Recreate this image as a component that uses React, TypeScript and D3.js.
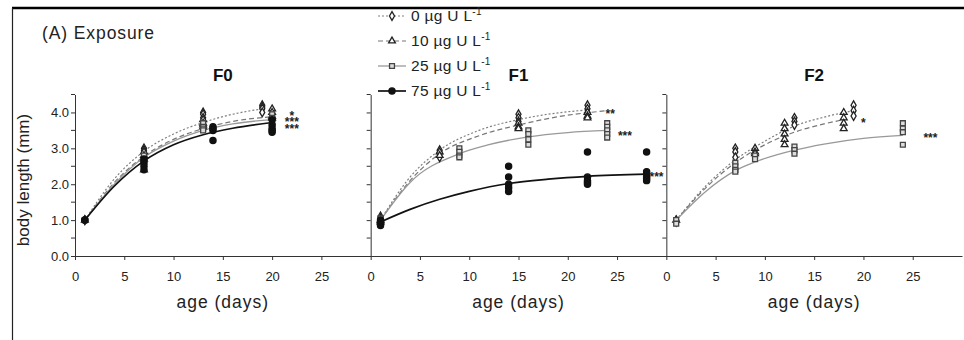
import * as d3 from "d3";
import { useEffect, useRef } from "react";

const panelNames = ["F0", "F1", "F2"];
const xTicks = [0, 5, 10, 15, 20, 25];
const yTicks = [0, 1, 2, 3, 4];
const yMinor = [0.5, 1.5, 2.5, 3.5, 4.5];
const treatments = ["0", "10", "25", "75"];

// measured body lengths: [day, values]
const f0Pts0 = [[1, [1.0, 1.0]], [7, [3.0, 2.95, 2.9, 2.85]], [13, [4.0, 3.95, 3.85, 3.75]], [19, [4.2, 4.15, 4.1, 4.0]]];
const f0Pts10 = [[1, [1.0]], [7, [2.9, 2.8, 2.7, 2.4]], [13, [3.8, 3.7, 3.65, 3.6]], [20, [4.1, 4.0, 3.9, 3.85]]];
const f0Pts25 = [[1, [1.0]], [7, [2.8, 2.7, 2.65, 2.6]], [13, [3.7, 3.6, 3.55, 3.5]], [20, [3.95, 3.85, 3.75, 3.7]]];
const f0Pts75 = [[1, [1.0, 1.0]], [7, [2.7, 2.6, 2.5, 2.4]], [14, [3.6, 3.55, 3.5, 3.22]], [20, [3.8, 3.65, 3.55, 3.5, 3.45]]];

const f1Pts0 = [[1, [1.1, 1.05, 1.0]], [7, [2.95, 2.85, 2.75]], [15, [3.95, 3.85, 3.75]], [22, [4.2, 4.1, 4.0, 3.95]]];
const f1Pts10 = [[1, [1.0, 0.95]], [7, [2.9, 2.8]], [15, [3.7, 3.6, 3.55]], [22, [4.0, 3.9, 3.85]]];
const f1Pts25 = [[1, [1.05, 0.95, 0.9]], [9, [3.0, 2.9, 2.8, 2.75]], [16, [3.5, 3.4, 3.25, 3.1]], [24, [3.7, 3.6, 3.5, 3.4, 3.3]]];
const f1Pts75 = [[1, [1.0, 0.95, 0.9, 0.85]], [14, [2.5, 2.2, 2.0, 1.9, 1.8]], [22, [2.9, 2.2, 2.1, 2.05, 2.0]], [28, [2.9, 2.35, 2.3, 2.2, 2.15, 2.1]]];

const f2Pts0 = [[1, [1.0, 0.95]], [7, [3.0, 2.9, 2.75]], [13, [3.85, 3.75, 3.65]], [19, [4.2, 4.05, 3.9]]];
const f2Pts10 = [[1, [1.0]], [9, [3.0, 2.9, 2.85]], [12, [3.7, 3.55, 3.4, 3.25, 3.1]], [18, [4.0, 3.85, 3.7, 3.55]]];
const f2Pts25 = [[1, [1.0, 0.9]], [7, [2.6, 2.5, 2.4, 2.35]], [9, [2.8, 2.7]], [13, [3.05, 2.95, 2.85]], [24, [3.7, 3.55, 3.45, 3.1]]];

// fitted growth curves: [day, value]
const f0Fit0 = [[1, 1.0], [4, 2.15], [7, 2.92], [10, 3.4], [13, 3.72], [16, 3.95], [19, 4.1]];
const f0Fit10 = [[1, 1.0], [4, 2.05], [7, 2.78], [10, 3.25], [13, 3.55], [16, 3.75], [20, 3.88]];
const f0Fit25 = [[1, 1.0], [4, 2.0], [7, 2.75], [10, 3.2], [13, 3.5], [16, 3.68], [20, 3.8]];
const f0Fit75 = [[1, 1.0], [4, 1.95], [7, 2.65], [10, 3.1], [13, 3.38], [16, 3.56], [20, 3.72]];

const f1Fit0 = [[1, 1.0], [4, 2.2], [7, 2.95], [11, 3.5], [15, 3.8], [18, 3.95], [22, 4.07]];
const f1Fit10 = [[1, 1.0], [4, 2.1], [7, 2.85], [11, 3.35], [15, 3.65], [19, 3.88], [24, 4.05]];
const f1Fit25 = [[1, 1.0], [4, 2.05], [9, 2.85], [12, 3.1], [16, 3.32], [20, 3.44], [24, 3.5]];
const f1Fit75 = [[1, 0.95], [4, 1.3], [7, 1.58], [10, 1.8], [14, 2.02], [18, 2.14], [22, 2.22], [28, 2.28]];

const f2Fit0 = [[1, 1.0], [4, 1.95], [7, 2.68], [10, 3.2], [13, 3.62], [16, 3.87], [19, 4.05]];
const f2Fit10 = [[1, 1.0], [4, 1.9], [7, 2.6], [10, 3.1], [13, 3.45], [16, 3.68], [18, 3.8]];
const f2Fit25 = [[1, 1.0], [4, 1.8], [7, 2.38], [9, 2.62], [13, 2.95], [16, 3.12], [20, 3.28], [24, 3.36]];

// significance marks: [day, value, label]
const f0Stars = [[22, 4.0, "*"], [22, 3.83, "***"], [22, 3.64, "***"]];
const f1Stars = [[24.3, 4.05, "**"], [25.8, 3.45, "***"], [29, 2.3, "***"]];
const f2Stars = [[20, 3.8, "*"], [26.8, 3.39, "***"]];

const panelPts = [[f0Pts0, f0Pts10, f0Pts25, f0Pts75], [f1Pts0, f1Pts10, f1Pts25, f1Pts75], [f2Pts0, f2Pts10, f2Pts25, null]];
const panelFits = [[f0Fit0, f0Fit10, f0Fit25, f0Fit75], [f1Fit0, f1Fit10, f1Fit25, f1Fit75], [f2Fit0, f2Fit10, f2Fit25, null]];
const panelStars = [f0Stars, f1Stars, f2Stars];

const lineStyle = [
  { stroke: "#808080", dash: "2,2", width: 1.2 },
  { stroke: "#777", dash: "5,3", width: 1.2 },
  { stroke: "#999", dash: null, width: 1.3 },
  { stroke: "#111", dash: null, width: 1.7 },
];
const markStyle = [
  { type: d3.symbolDiamond, size: 22, fill: "#fff", stroke: "#222" },
  { type: d3.symbolTriangle, size: 20, fill: "#fff", stroke: "#222" },
  { type: d3.symbolSquare, size: 24, fill: "#ddd", stroke: "#444" },
  { type: d3.symbolCircle, size: 30, fill: "#111", stroke: "#111" },
];

const FONT = "Liberation Sans, Arial, sans-serif";

export default function App() {
  const ref = useRef(null);

  useEffect(() => {
    const svg = d3.select(ref.current);
    svg.selectAll("*").remove();

    const panelX = d3.scaleBand().domain(panelNames).range([75, 962]);
    const y = d3.scaleLinear().domain([0, 4.5]).range([256, 94.5]);

    // frame
    svg.append("line").attr("x1", 12).attr("x2", 964).attr("y1", 8).attr("y2", 8).attr("stroke", "#000").attr("stroke-width", 2.5);
    svg.append("line").attr("x1", 12.5).attr("x2", 12.5).attr("y1", 8).attr("y2", 340).attr("stroke", "#222").attr("stroke-width", 1.2);

    svg.append("text").attr("x", 42).attr("y", 39).attr("font-size", 17.5).attr("letter-spacing", 0.9)
      .attr("font-family", FONT).attr("fill", "#222").text("(A) Exposure");

    svg.append("text")
      .attr("transform", "translate(29,180) rotate(-90)")
      .attr("text-anchor", "middle").attr("font-size", 17).attr("font-family", FONT).attr("fill", "#222")
      .text("body length (mm)");

    panelNames.forEach((name, pi) => {
      const x0 = panelX(name);
      const x = d3.scaleLinear().domain([0, 30]).range([x0, x0 + panelX.bandwidth()]);
      const g = svg.append("g");

      // x axis
      const xa = g.append("g").attr("transform", `translate(0,${y(0)})`)
        .call(d3.axisBottom(x).tickValues(xTicks).tickSize(4).tickSizeOuter(0).tickPadding(12));
      xa.selectAll("text").attr("font-size", 13).attr("font-family", FONT).attr("fill", "#222");
      xa.selectAll("path,line").attr("stroke", "#333");

      // y axis
      const ya = g.append("g").attr("transform", `translate(${x0},0)`)
        .call(d3.axisLeft(y).tickValues(yTicks).tickSize(4).tickSizeOuter(0).tickPadding(2)
          .tickFormat(pi === 0 ? d3.format(".1f") : () => ""));
      ya.selectAll("text").attr("font-size", 13).attr("font-family", FONT).attr("fill", "#222");
      ya.selectAll("path,line").attr("stroke", "#333");
      g.append("g").selectAll("line").data(yMinor).join("line")
        .attr("x1", x0 - 4).attr("x2", x0).attr("y1", d => y(d)).attr("y2", d => y(d)).attr("stroke", "#333");

      g.append("text").attr("x", x(15)).attr("y", 81).attr("text-anchor", "middle")
        .attr("font-size", 17).attr("font-weight", "bold").attr("font-family", FONT).attr("fill", "#111").text(name);
      g.append("text").attr("x", x(15)).attr("y", 308).attr("text-anchor", "middle")
        .attr("font-size", 17.5).attr("letter-spacing", 1).attr("font-family", FONT).attr("fill", "#222").text("age (days)");

      const line = d3.line().x(d => x(d[0])).y(d => y(d[1])).curve(d3.curveMonotoneX);
      panelFits[pi].forEach((fit, ti) => {
        if (!fit) return;
        const s = lineStyle[ti];
        g.append("path").attr("d", line(fit)).attr("fill", "none").attr("stroke", s.stroke)
          .attr("stroke-width", s.width).attr("stroke-dasharray", s.dash);
      });

      panelPts[pi].forEach((pts, ti) => {
        if (!pts) return;
        const m = markStyle[ti];
        const flat = pts.flatMap(([d, vals]) => vals.map(v => [d, v]));
        g.append("g").selectAll("path").data(flat).join("path")
          .attr("transform", d => `translate(${x(d[0])},${y(d[1])})`)
          .attr("d", d3.symbol(m.type, m.size)())
          .attr("fill", m.fill).attr("stroke", m.stroke).attr("stroke-width", 1.3);
      });

      // significance stars, one text element per panel
      const st = g.append("text").attr("text-anchor", "middle").attr("font-size", 12).attr("font-weight", "bold")
        .attr("font-family", FONT).attr("fill", "#222");
      st.selectAll("tspan").data(panelStars[pi]).join("tspan")
        .attr("x", d => x(d[0])).attr("y", d => y(d[1]) + 7.5).text(d => d[2]);
    });

    // legend
    const legend = svg.append("g");
    const ly = d3.scalePoint().domain(treatments).range([16, 91]);
    treatments.forEach((t, ti) => {
      const s = lineStyle[ti];
      const m = markStyle[ti];
      const yy = ly(t);
      legend.append("line").attr("x1", 378).attr("x2", 406).attr("y1", yy).attr("y2", yy)
        .attr("stroke", s.stroke).attr("stroke-width", s.width).attr("stroke-dasharray", s.dash);
      legend.append("path").attr("transform", `translate(392,${yy})`).attr("d", d3.symbol(m.type, m.size)())
        .attr("fill", m.fill).attr("stroke", m.stroke).attr("stroke-width", 1.3);
      const tx = legend.append("text").attr("x", 411).attr("y", yy + 5).attr("font-size", 15.5).attr("letter-spacing", 0.3)
        .attr("font-family", FONT).attr("fill", "#222").text(`${t} µg U L`);
      tx.append("tspan").attr("dy", -6).attr("font-size", 10).text("-1");
    });
  }, []);

  return <svg ref={ref} width={964} height={340} style={{ position: "absolute", left: 0, top: 0, background: "#fff" }}></svg>;
}
